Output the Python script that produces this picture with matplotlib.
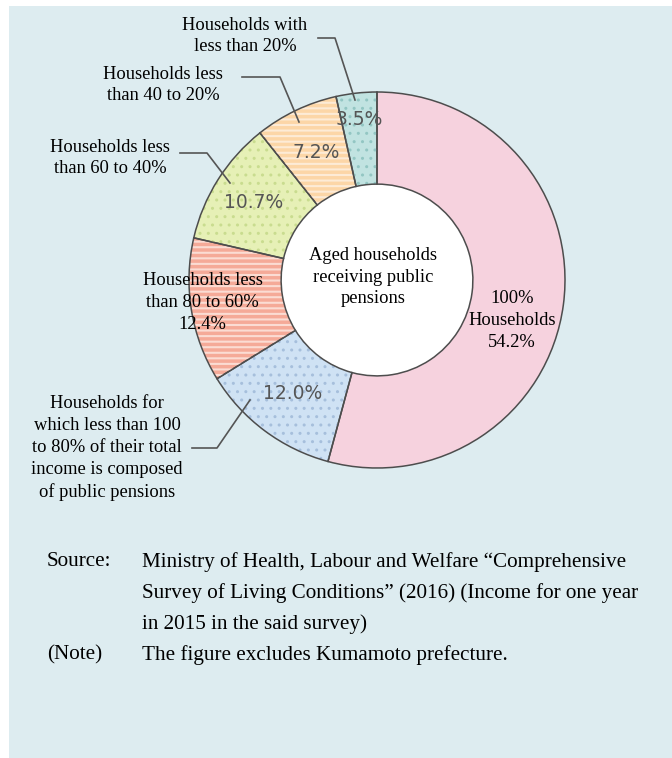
import matplotlib.pyplot as plt
from matplotlib.patches import Wedge, Circle
import numpy as np

# shares of aged households receiving public pensions (%)
shares = [54.2, 12.0, 12.4, 10.7, 7.2, 3.5]
pct_text = ['54.2%', '12.0%', '12.4%', '10.7%', '7.2%', '3.5%']
colors = ['#f6d2de', '#cfe2f4', '#f5aa98', '#e6f0b6', '#fcd6a7', '#c1e3e1']
hatches = [None, '..', '---', '..', '---', '..']
hatch_cols = [None, '#a6bfdc', '#fbdcd3', '#c9dc8f', '#fdebd6', '#93c6c3']

outer_labels = ['Households for\nwhich less than 100\nto 80% of their total\nincome is composed\nof public pensions',
                'Households less\nthan 60 to 40%',
                'Households less\nthan 40 to 20%',
                'Households with\nless than 20%']

W, H = 672, 758
serif = ['Liberation Serif', 'DejaVu Serif']
ls = 1.38

fig = plt.figure(figsize=(6.72, 7.58), dpi=100)
ax = fig.add_axes([9 / W, 0, (W - 9) / W, (H - 6) / H])

def Y(y):
    return H - y

cx, cy, R = 377, Y(280), 188
wedges, _ = ax.pie(shares, colors=colors, startangle=90, counterclock=False,
                   center=(cx, cy), radius=R,
                   wedgeprops=dict(width=R * 0.49, edgecolor='none'))

# white hole in the middle
w0 = wedges[0]
ax.add_patch(Circle(w0.center, w0.r - w0.width, facecolor='white', edgecolor='none'))

for w, hc, ht in zip(wedges, hatch_cols, hatches):
    if ht:
        p = Wedge(w.center, w.r, w.theta1, w.theta2, width=w.width,
                  facecolor='none', edgecolor=hc, linewidth=0, hatch=ht)
        if hasattr(p, 'set_hatch_linewidth'):
            p.set_hatch_linewidth(1.5 if '-' in ht else 1.0)
        ax.add_patch(p)
    ax.add_patch(Wedge(w.center, w.r, w.theta1, w.theta2, width=w.width,
                       fill=False, edgecolor='#4d4d4d', linewidth=1.1))

def mid_pos(w, frac, dang=0):
    a = np.deg2rad((w.theta1 + w.theta2) / 2 + dang)
    return w.center[0] + frac * w.r * np.cos(a), w.center[1] + frac * w.r * np.sin(a)

# percentages inside the small wedges
for i, frac in [(1, 0.75), (3, 0.775), (4, 0.75), (5, 0.86)]:
    x, y = mid_pos(wedges[i], frac)
    ax.text(x, y, pct_text[i], ha='center', va='center', fontsize=13.5,
            color='#555555', family='DejaVu Sans')

x, y = mid_pos(wedges[0], 0.75, -9)
ax.text(x, y, '100%\nHouseholds\n' + pct_text[0], ha='center', va='center',
        fontsize=13.3, family=serif, linespacing=ls)
x, y = mid_pos(wedges[2], 0.935, -2)
ax.text(x, y, 'Households less\nthan 80 to 60%\n' + pct_text[2], ha='center', va='center',
        fontsize=13.3, family=serif, linespacing=ls)

ax.text(cx - 4, cy + 3, 'Aged households\nreceiving public\npensions', ha='center', va='center',
        fontsize=13.3, family=serif, linespacing=ls)

# outer labels with leader lines
label_xy = [(107, 448), (110, 158), (163, 85), (245, 36)]
leaders = [[(192, 448), (217, 448), (250, 400)],
           [(180, 153), (207, 153), (230, 183)],
           [(242, 77), (280, 77), (299, 122)],
           [(318, 38), (335, 38), (355, 100)]]
for txt, (lx, ly), pts in zip(outer_labels, label_xy, leaders):
    ax.text(lx, Y(ly), txt, ha='center', va='center', fontsize=13.3,
            family=serif, linespacing=ls)
    px, py = zip(*pts)
    ax.plot(px, [Y(v) for v in py], color='#555555', lw=1.2)

# source and note
fs = 15.2
ax.text(47, Y(562), 'Source:', ha='left', va='center', fontsize=fs, family=serif)
ax.text(142, Y(562), 'Ministry of Health, Labour and Welfare \u201cComprehensive', ha='left', va='center', fontsize=fs, family=serif)
ax.text(142, Y(593), 'Survey of Living Conditions\u201d (2016) (Income for one year', ha='left', va='center', fontsize=fs, family=serif)
ax.text(142, Y(624), 'in 2015 in the said survey)', ha='left', va='center', fontsize=fs, family=serif)
ax.text(47, Y(655), '(Note)', ha='left', va='center', fontsize=fs, family=serif)
ax.text(142, Y(655), 'The figure excludes Kumamoto prefecture.', ha='left', va='center', fontsize=fs, family=serif)

ax.set_xlim(9, W)
ax.set_ylim(0, H - 6)
ax.set_aspect('auto')
ax.set_frame_on(True)
ax.set_facecolor('#ddecf0')
ax.set_xticks([])
ax.set_yticks([])
for s in ax.spines.values():
    s.set_visible(False)
fig.savefig('out.png', dpi=100, facecolor='white')
